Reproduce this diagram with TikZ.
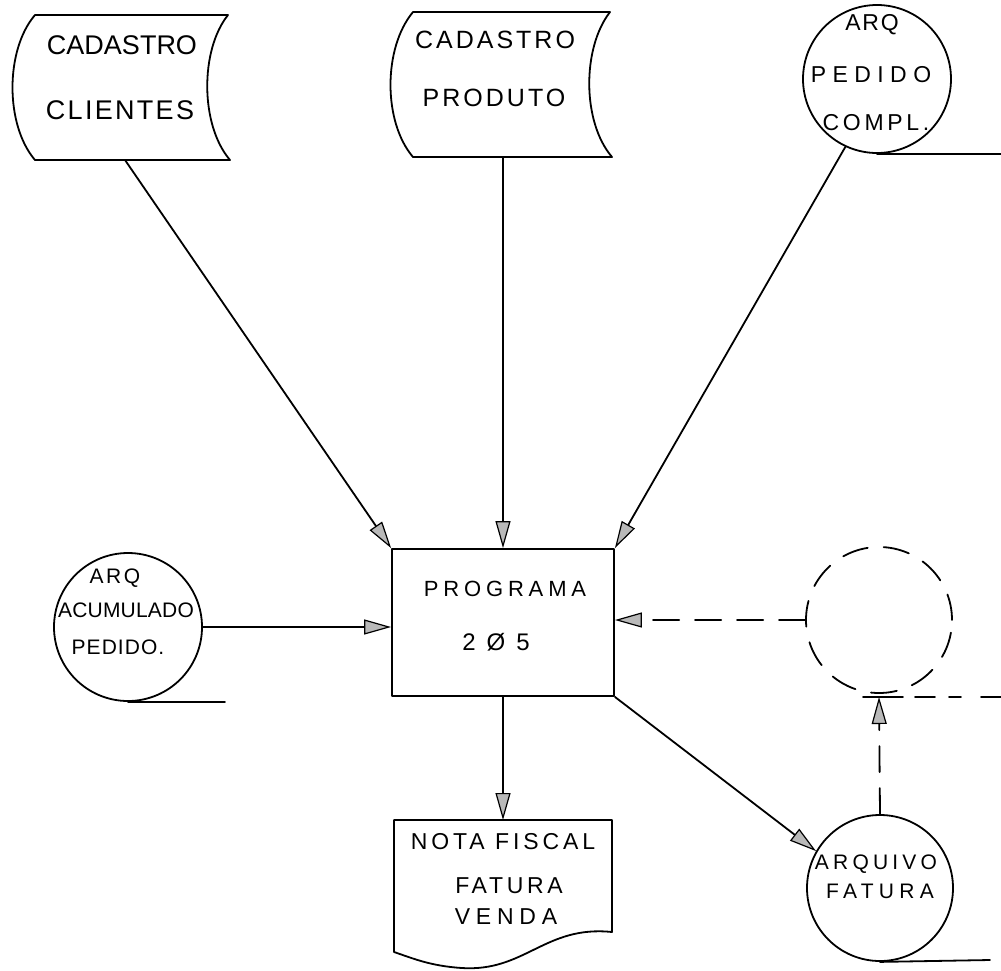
\documentclass[tikz,border=0pt]{standalone}
\usepackage{fontspec}
\setmainfont{Liberation Sans}
\usetikzlibrary{arrows.meta}
% hand-lettering look: size and tracking
\newcommand\handfont[2]{\fontsize{#1}{#1}\selectfont\addfontfeatures{LetterSpace=#2}}

\begin{document}
\begin{tikzpicture}[x=1pt,y=-1pt,
  ink/.style={line width=1.8pt, line cap=round, line join=round},
  flow/.style={ink, -{Triangle[length=27pt,width=15pt,fill=gray!55,line width=1.2pt]}},
  dashflow/.style={flow, dash pattern=on 26pt off 16pt},
  store/.style={draw, circle, ink, minimum size=146pt, inner sep=0pt},
  lbl/.style={inner sep=0pt, anchor=center},
]
\fill[white] (0,0) rectangle (1001,970);
\useasboundingbox (0,0) rectangle (1001,970);

% ---- stored data: CADASTRO CLIENTES
\draw[ink] (35,15) -- (228,15) .. controls (200,50) and (200,125) .. (230,160)
  -- (35,160) .. controls (5,125) and (5,50) .. (35,15) -- cycle;
\node[lbl, font=\handfont{27}{0}] (cliA) at (122,45) {CADASTRO};
\node[lbl, font=\handfont{27}{8.5}] (cliB) at (120,110) {CLIENTES};
\coordinate (cliOut) at (125,160);

% ---- stored data: CADASTRO PRODUTO
\draw[ink] (413,12) -- (610,12) .. controls (582,48) and (582,122) .. (612,157)
  -- (413,157) .. controls (383,122) and (383,48) .. (413,12) -- cycle;
\node[lbl, font=\handfont{25}{12}] (prodA) at (495,40) {CADASTRO};
\node[lbl, font=\handfont{25}{12}] (prodB) at (494,98) {PRODUTO};
\coordinate (prodOut) at (503,157);

% ---- file: ARQ PEDIDO COMPL.
\node[store, minimum size=148pt] (pc) at (877,79) {};
\node[lbl, font=\handfont{23}{8}] (pcA) at (872,25) {ARQ};
\node[lbl, font=\handfont{23}{28}] (pcB) at (871,75) {PEDIDO};
\node[lbl, font=\handfont{23}{16}] (pcC) at (876,123) {COMPL.};
\draw[ink] (pc.south) -- ++(124,0);

% ---- file: ARQ ACUMULADO PEDIDO.
\node[store, minimum size=148pt] (acum) at (128,627) {};
\node[lbl, font=\handfont{21}{12}] (acA) at (115,578) {ARQ};
\node[lbl, font=\handfont{21}{1}] (acB) at (126,610) {ACUMULADO};
\node[lbl, font=\handfont{21}{5}] (acC) at (118,647) {PEDIDO.};
\draw[ink] (acum.south) -- ++(97,0);

% ---- process box
\node[draw, ink, minimum width=222pt, minimum height=147pt, inner sep=0pt] (prog) at (503,622.5) {};
\node[lbl, font=\handfont{22}{22}] (progA) at (505,589) {PROGRAMA};
\node[lbl, font=\handfont{24}{0}] (progB) at (496,642) {2\hspace{11pt}Ø\hspace{11pt}5};

% ---- dashed file
\node[store, dash pattern=on 26pt off 16pt] (aux) at (879,620) {};
\coordinate (auxBase) at (879,697);
\draw[ink, dash pattern=on 40pt off 12pt on 20pt off 14pt on 12pt off 20pt on 30pt off 10pt] (863,697) -- (1001,697);

% ---- file: ARQUIVO FATURA
\node[store] (fat) at (880,888) {};
\node[lbl, font=\handfont{21}{20}] (fatA) at (876,864) {ARQUIVO};
\node[lbl, font=\handfont{21}{25}] (fatB) at (880,891) {FATURA};
\draw[ink] (fat.south) -- (990,960);

% ---- document: NOTA FISCAL FATURA VENDA
\draw[ink] (394,820) -- (612,820) -- (612,932)
  .. controls (545,925) and (525,972) .. (462,968)
  .. controls (430,966) and (412,958) .. (394,952) -- cycle;
\coordinate (nfTop) at (503,820);
\node[lbl, font=\handfont{23}{17}] (nfA) at (503,842) {NOTA FISCAL};
\node[lbl, font=\handfont{23}{16}] (nfB) at (509,886) {FATURA};
\node[lbl, font=\handfont{23}{25}] (nfC) at (506,917) {VENDA};

% ---- flows
\draw[flow] (cliOut) -- (prog.north west);
\draw[flow] (prodOut) -- (prodOut |- prog.north);
\draw[flow] (pc.245) -- (prog.north east);
\draw[flow] (acum.east) -- (acum.east -| prog.west);
\draw[dashflow] (aux.west) -- (aux.west -| prog.east);
\draw[flow] (prog.south) -- (nfTop);
\draw[flow] (prog.south east) -- (fat.150);
\draw[dashflow] (fat.north) -- (auxBase);
\end{tikzpicture}
\end{document}
